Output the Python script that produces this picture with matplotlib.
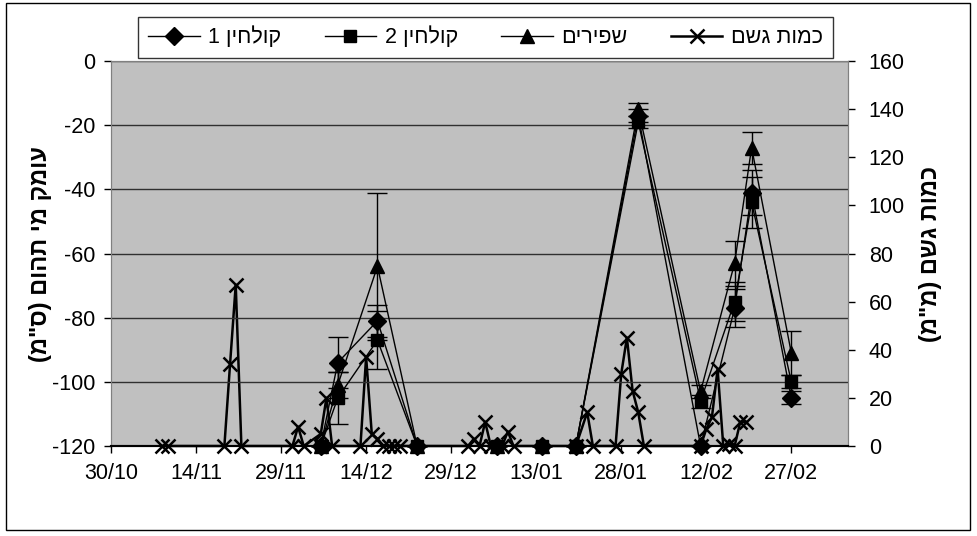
import numpy as np
import pandas as pd
import matplotlib
matplotlib.use("Agg")
import matplotlib.pyplot as plt
from matplotlib.lines import Line2D
from matplotlib.patches import Rectangle

plt.rcParams["font.family"] = ["Liberation Sans", "DejaVu Sans"]
plt.rcParams["axes.unicode_minus"] = False

# Hebrew strings are stored in visual (left-to-right) order, matplotlib has no bidi
label_k1 = "1 ןיחלוק"
label_k2 = "2 ןיחלוק"
label_sh = "םיריפש"
label_rain = "םשג תומכ"
ylabel_left = '(מ"ס) םוהת ימ קמוע'
ylabel_right = '(מ"מ) םשג תומכ'

# rain (mm), right axis
rain_dates = [
    "2003-11-08", "2003-11-09", "2003-11-19", "2003-11-20", "2003-11-21", "2003-11-22",
    "2003-12-01", "2003-12-02", "2003-12-03", "2003-12-06", "2003-12-07", "2003-12-08",
    "2003-12-13", "2003-12-14", "2003-12-15", "2003-12-16", "2003-12-17", "2003-12-18",
    "2003-12-19", "2003-12-20", "2004-01-01", "2004-01-02", "2004-01-03", "2004-01-04",
    "2004-01-05", "2004-01-07", "2004-01-08", "2004-01-09", "2004-01-20", "2004-01-22",
    "2004-01-23", "2004-01-27", "2004-01-28", "2004-01-29", "2004-01-30", "2004-01-31",
    "2004-02-01", "2004-02-11", "2004-02-12", "2004-02-13", "2004-02-14", "2004-02-15",
    "2004-02-16", "2004-02-17", "2004-02-18", "2004-02-19",
]
rain_mm = [
    0, 0, 0, 34, 67, 0,
    0, 8, 0, 5, 20, 0,
    0, 37, 5, 3, 0, 0,
    0, 0, 0, 3, 0, 10,
    0, 0, 6, 0, 0, 14,
    0, 0, 30, 45, 23, 14,
    0, 0, 7, 12, 32, 0,
    1, 0, 10, 10,
]

# groundwater depth (cm), left axis
well_dates = [
    "2003-12-06", "2003-12-09", "2003-12-16", "2003-12-23", "2004-01-06", "2004-01-14",
    "2004-01-20", "2004-01-31", "2004-02-11", "2004-02-17", "2004-02-20", "2004-02-27",
]
k1_depth = [-120, -94, -81, -120, -120, -120, -120, -17, -120, -77, -41, -105]
k1_err = [0, 8, 5, 0, 0, 0, 0, 2, 0, 6, 7, 2]
k2_depth = [-120, -105, -87, -120, -120, -120, -120, -19, -106, -75, -44, -100]
k2_err = [0, 8, 9, 0, 0, 0, 0, 2, 2, 6, 8, 2]
sh_depth = [-120, -101, -64, -120, -120, -120, -120, -15, -103, -63, -27, -91]
sh_err = [0, 4, 23, 0, 0, 0, 0, 2, 2, 7, 5, 7]

tick_start = "2003-10-30"
tick_labels = ["30/10", "14/11", "29/11", "14/12", "29/12", "13/01", "28/01", "12/02", "27/02"]

rain_x = pd.to_datetime(rain_dates)
well_x = pd.to_datetime(well_dates)
ticks = pd.date_range(tick_start, periods=len(tick_labels), freq="15D")

fig = plt.figure(figsize=(9.77, 5.36), dpi=100)
fig.patches.append(Rectangle((0.006, 0.011), 0.987, 0.983, transform=fig.transFigure,
                             fill=False, edgecolor="black", linewidth=1.0))

ax = fig.add_axes([111 / 977, 1 - 446 / 536, (848 - 111) / 977, (446 - 61) / 536])
ax2 = ax.twinx()
ax.set_zorder(ax2.get_zorder() + 1)
ax.patch.set_visible(False)
ax2.patch.set_visible(True)
ax2.patch.set_facecolor("#c0c0c0")

ax2.plot(rain_x, rain_mm, color="black", linewidth=1.8, marker="x", markersize=10,
         markeredgewidth=1.8, clip_on=False)

series = [
    (k1_depth, k1_err, "D", 9),
    (k2_depth, k2_err, "s", 9),
    (sh_depth, sh_err, "^", 10),
]
for depth, err, mk, ms in series:
    ax.errorbar(well_x, depth, yerr=err, color="black", linewidth=1.0, marker=mk,
                markersize=ms, elinewidth=1.0, capsize=7, capthick=1.0, clip_on=False)

x0 = pd.Timestamp(tick_start)
ax.set_xlim(x0, x0 + pd.Timedelta(days=130))
ax.set_ylim(-120, 0)
ax2.set_ylim(0, 160)
ax.set_yticks(np.arange(-120, 1, 20))
ax2.set_yticks(np.arange(0, 161, 20))
ax.set_xticks(ticks)
ax.set_xticklabels(tick_labels)

ax.grid(axis="y", color="#303030", linewidth=1.0)
for a in (ax, ax2):
    a.tick_params(labelsize=15.5, direction="out", length=5, width=1.0, colors="black")
    for side in ("left", "top", "right"):
        a.spines[side].set_color("#808080")
    a.spines["bottom"].set_color("black")
    a.spines["bottom"].set_linewidth(1.5)
ax.tick_params(axis="x", pad=7)
ax.tick_params(axis="y", pad=6)
ax2.tick_params(axis="y", pad=10)

ax.set_ylabel(ylabel_left, fontsize=17, fontweight="bold", labelpad=0)
ax2.set_ylabel(ylabel_right, fontsize=17, fontweight="bold", rotation=90, labelpad=10)

handles = [
    Line2D([], [], color="black", linewidth=1.0, marker="D", markersize=9),
    Line2D([], [], color="black", linewidth=1.0, marker="s", markersize=9),
    Line2D([], [], color="black", linewidth=1.0, marker="^", markersize=10),
    Line2D([], [], color="black", linewidth=1.8, marker="x", markersize=10, markeredgewidth=1.8),
]
leg = fig.legend(handles, [label_k1, label_k2, label_sh, label_rain], loc="center",
                 bbox_to_anchor=(0.497, 0.930), ncol=4, fontsize=15.5, frameon=True,
                 fancybox=False, edgecolor="black", handlelength=2.4, columnspacing=2.0,
                 handletextpad=0.4, borderpad=0.45)
leg.get_frame().set_linewidth(1.0)

fig.savefig("out.png", dpi=100)
